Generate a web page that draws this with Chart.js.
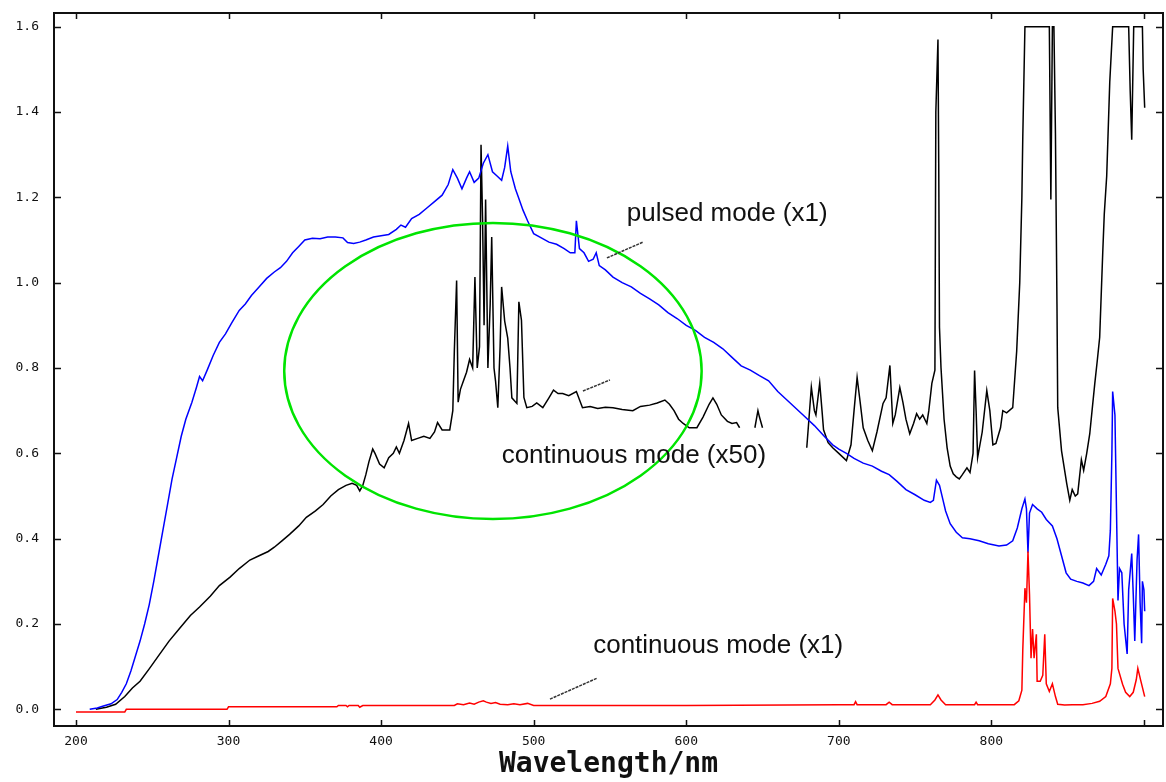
<!DOCTYPE html>
<html>
<head>
<meta charset="utf-8">
<title>Spectrum</title>
<script src="https://cdn.jsdelivr.net/npm/chart.js@4"></script>
<style>
  html, body { margin: 0; padding: 0; background: #fff; }
  #wrap { width: 1166px; height: 782px; }
</style>
</head>
<body>
<div id="wrap"><canvas id="spectrum" width="1166" height="782"></canvas></div>
<script>
// axis ticks
const xTicks = [200, 300, 400, 500, 600, 700, 800, 900];
const xTickLabels = ['200', '300', '400', '500', '600', '700', '800', ''];
const yTicks = [0, 0.2, 0.4, 0.6, 0.8, 1.0, 1.2, 1.4, 1.6];
const yTickLabels = ['0.0', '0.2', '0.4', '0.6', '0.8', '1.0', '1.2', '1.4', '1.6'];

// pulsed mode (x1), blue  [nm, value]
const pulsedX1 = [
  [209,0],[214,0.003],[218,0.008],[223,0.013],[227,0.023],[230,0.04],[233,0.06],[236,0.09],[239,0.125],[242,0.16],
  [245,0.2],[248,0.245],[251,0.3],[254,0.36],[257,0.42],[260,0.48],[263,0.54],[266,0.59],[269,0.64],[272,0.68],
  [276,0.72],[279,0.755],[281,0.78],[283,0.77],[286,0.795],[290,0.83],[294,0.86],[298,0.88],[302,0.905],[307,0.935],
  [311,0.95],[315,0.97],[320,0.99],[325,1.01],[330,1.025],[334,1.035],[338,1.05],[342,1.07],[346,1.085],[350,1.1],
  [355,1.104],[360,1.103],[365,1.107],[370,1.107],[375,1.105],[378,1.094],[382,1.092],[386,1.095],[390,1.1],[395,1.107],
  [400,1.11],[405,1.113],[410,1.125],[413,1.135],[416,1.13],[420,1.15],[425,1.16],[430,1.175],[435,1.19],[440,1.205],
  [444,1.23],[447,1.265],[450,1.245],[453,1.22],[456,1.245],[458,1.26],[461,1.235],[464,1.245],[467,1.28],[470,1.3],
  [473,1.26],[476,1.25],[479,1.24],[481,1.27],[483,1.32],[485,1.26],[488,1.22],[490,1.2],[493,1.17],[496,1.145],
  [500,1.115],[505,1.105],[510,1.095],[515,1.09],[520,1.08],[524,1.07],[527,1.07],[528,1.145],[530,1.08],[533,1.07],
  [536,1.05],[539,1.055],[541,1.07],[543,1.04],[547,1.03],[552,1.013],[558,1.0],[564,0.99],[570,0.975],[576,0.962],
  [582,0.948],[588,0.93],[594,0.916],[600,0.9],[606,0.888],[612,0.872],[618,0.86],[624,0.845],[630,0.825],[636,0.805],
  [642,0.795],[648,0.782],[654,0.77],[660,0.745],[666,0.725],[672,0.705],[678,0.685],[684,0.665],[690,0.642],[696,0.62],
  [700,0.61],[705,0.6],[710,0.588],[716,0.577],[722,0.57],[728,0.558],[733,0.55],[738,0.535],[744,0.515],[750,0.503],
  [756,0.49],[760,0.485],[762,0.49],[764,0.537],[766,0.525],[768,0.495],[770,0.465],[773,0.435],[777,0.415],[781,0.402],
  [786,0.4],[792,0.395],[798,0.388],[805,0.383],[810,0.385],[814,0.395],[817,0.425],[820,0.47],[822,0.493],[823,0.47],
  [824,0.367],[825,0.46],[827,0.48],[830,0.47],[833,0.462],[836,0.445],[840,0.43],[843,0.4],[846,0.36],[849,0.32],
  [852,0.305],[856,0.3],[860,0.296],[864,0.29],[867,0.3],[869,0.33],[872,0.315],[875,0.34],[877,0.36],[878,0.42],
  [879,0.6],[879.5,0.745],[881,0.69],[882,0.47],[883,0.255],[884,0.33],[885.5,0.32],[887,0.2],[889,0.13],[890,0.28],
  [892,0.365],[893,0.27],[894,0.16],[895.5,0.35],[896.5,0.41],[897.5,0.25],[898.5,0.155],[899,0.3],[900,0.28],[900.5,0.23]
];

// continuous mode (x50), black  (null = gap in the trace)
const continuousX50 = [
  [213,0],[220,0.005],[226,0.012],[232,0.03],[237,0.05],[242,0.066],[248,0.095],[255,0.13],[261,0.16],[268,0.19],
  [275,0.22],[281,0.24],[288,0.265],[294,0.29],[301,0.31],[307,0.33],[314,0.35],[320,0.36],[326,0.37],[330,0.38],
  [335,0.395],[340,0.41],[346,0.43],[351,0.45],[357,0.465],[362,0.48],[367,0.5],[372,0.515],[377,0.525],[381,0.53],
  [384,0.525],[386,0.512],[388,0.525],[390,0.55],[392,0.58],[394.5,0.61],[396,0.6],[399,0.575],[402,0.566],[405,0.59],
  [408,0.6],[410,0.615],[412,0.6],[415,0.63],[418,0.67],[420,0.63],[424,0.635],[428,0.64],[432,0.635],[435,0.65],
  [437,0.672],[440,0.655],[445,0.655],[447,0.7],[448,0.84],[449.5,1.005],[450.5,0.72],[452,0.75],[454,0.77],[456,0.79],
  [458,0.82],[460,0.8],[461.5,1.013],[463,0.8],[464.5,0.85],[465.5,1.323],[466.5,1.15],[467.5,0.9],[468.5,1.195],[470,0.8],
  [471.5,0.95],[472.5,1.107],[474,0.8],[475,0.77],[476.5,0.707],[478,0.85],[479,0.99],[481,0.91],[483,0.87],[484.5,0.8],
  [485.7,0.73],[489,0.717],[490.3,0.955],[492,0.912],[493.6,0.731],[495.5,0.707],[499,0.71],[502,0.718],[506,0.707],[510,0.73],
  [513,0.748],[516,0.74],[519,0.74],[523,0.735],[528,0.745],[532,0.707],[537,0.71],[542,0.705],[547,0.708],[552,0.707],
  [558,0.703],[565,0.7],[570,0.71],[576,0.713],[581,0.718],[586,0.725],[589,0.715],[592,0.7],[595,0.68],[598,0.67],
  [602,0.66],[607,0.66],[611,0.685],[615,0.715],[617.5,0.73],[620,0.715],[623,0.69],[627,0.675],[630,0.67],[633,0.672],
  [635,0.66],[640,null],[645,0.66],[646,0.68],[647,0.7],[648,0.685],[650,0.66],[665,null],
  [679,0.613],[680,0.66],[682,0.755],[684,0.7],[685,0.69],[687.5,0.765],[689,0.7],[690,0.655],[693,0.625],[696,0.613],
  [700,0.6],[705,0.583],[708,0.62],[710,0.7],[712,0.778],[714,0.72],[716,0.66],[719,0.63],[722,0.606],[725,0.65],
  [729,0.717],[731,0.73],[733.5,0.806],[735.4,0.67],[737,0.69],[740,0.754],[742,0.72],[744,0.68],[746.5,0.646],[749,0.67],
  [751,0.693],[753,0.68],[755,0.69],[757.7,0.67],[759,0.7],[761,0.764],[763,0.795],[763.6,1.4],[765,1.57],[765.5,1.28],
  [766,0.895],[767,0.8],[769,0.68],[771,0.613],[773,0.57],[775,0.552],[777,0.545],[779,0.54],[781,0.55],[784,0.566],
  [786,0.555],[788,0.6],[789,0.794],[790,0.7],[791,0.59],[794,0.65],[797,0.747],[799,0.7],[801,0.62],[803,0.623],
  [806,0.66],[807.5,0.7],[810,0.695],[814,0.707],[816.6,0.84],[818.6,1.0],[820,1.2],[820.6,1.342],[822,1.6],[830,1.6],
  [838,1.6],[839,1.195],[840,1.6],[841,1.6],[842,1.35],[843,0.95],[843.5,0.707],[846,0.606],[849.4,0.529],[851.4,0.49],
  [853,0.515],[855,0.5],[856.6,0.505],[859,0.585],[860.5,0.56],[862.5,0.6],[864.5,0.646],[866,0.7],[867.8,0.764],[869.5,0.82],
  [871,0.872],[873,1.07],[874,1.16],[875.6,1.25],[877.6,1.47],[879.5,1.6],[890,1.6],[891,1.45],[892,1.335],[893.3,1.6],
  [899,1.6],[899.5,1.5],[900.5,1.41]
];

// continuous mode (x1), red
const continuousX1 = [
  [200,-0.006],[232,-0.006],[233,0],[299,0],[300,0.006],[371,0.006],[372,0.009],[377,0.009],[378,0.006],[379,0.009],
  [385,0.009],[386,0.005],[388,0.009],[448,0.009],[450,0.013],[454,0.011],[458,0.015],[461,0.012],[464,0.017],[467,0.02],
  [469,0.017],[472,0.014],[475,0.016],[478,0.012],[483,0.011],[487,0.013],[491,0.011],[496,0.014],[500,0.009],[600,0.009],
  [700,0.011],[710,0.011],[711,0.018],[712,0.011],[731,0.011],[733,0.017],[735,0.011],[760,0.011],[763,0.022],[765,0.034],
  [767,0.022],[770,0.011],[789,0.011],[790,0.017],[791,0.011],[815,0.011],[818,0.02],[820,0.045],[820.6,0.14],[822,0.284],
  [823,0.25],[824,0.37],[825,0.27],[826,0.12],[827,0.188],[828,0.12],[829.5,0.176],[830,0.066],[832,0.066],[833.7,0.08],
  [835,0.176],[836,0.06],[838,0.042],[840,0.06],[842,0.03],[843.5,0.012],[848,0.01],[853,0.011],[860,0.011],[866,0.014],
  [871,0.019],[875,0.03],[878,0.06],[879,0.096],[879.5,0.26],[881,0.23],[882,0.2],[883,0.096],[886,0.059],[888,0.04],
  [890.7,0.03],[893,0.04],[895,0.07],[896,0.096],[898,0.066],[900.5,0.03]
];

// text labels with short leader lines, placed in data units
const notes = [
  { text: 'pulsed mode (x1)', x: 561, y: 1.145, line: [548, 1.058, 571.6, 1.095] },
  { text: 'continuous mode (x50)', x: 479, y: 0.577, line: [532.3, 0.746, 550, 0.772] },
  { text: 'continuous mode (x1)', x: 539, y: 0.132, line: [510.7, 0.024, 541.5, 0.073] }
];
// highlighted region (centre nm, centre value, half width nm, half height)
const highlight = { cx: 473.3, cy: 0.793, rx: 136.8, ry: 0.347 };

const toPoints = arr => arr.map(p => ({ x: p[0], y: p[1] }));

const overlayPlugin = {
    id: 'overlay',
    afterDatasetsDraw(chart) {
        const { ctx, scales: { x, y } } = chart;
        ctx.save();
        // green ellipse
        const cx = x.getPixelForValue(highlight.cx);
        const cy = y.getPixelForValue(highlight.cy);
        const rx = x.getPixelForValue(highlight.cx + highlight.rx) - cx;
        const ry = cy - y.getPixelForValue(highlight.cy + highlight.ry);
        ctx.strokeStyle = '#00e400';
        ctx.lineWidth = 2.5;
        ctx.beginPath();
        ctx.ellipse(cx, cy, rx, ry, 0, 0, Math.PI * 2);
        ctx.stroke();

        // labels + leaders
        ctx.font = '26px "Liberation Sans", Arial, sans-serif';
        ctx.fillStyle = '#111';
        ctx.textAlign = 'left';
        ctx.textBaseline = 'alphabetic';
        notes.forEach(n => {
            ctx.fillText(n.text, x.getPixelForValue(n.x), y.getPixelForValue(n.y));
            ctx.strokeStyle = '#333';
            ctx.lineWidth = 1.5;
            ctx.setLineDash([3, 1]);
            ctx.beginPath();
            ctx.moveTo(x.getPixelForValue(n.line[0]), y.getPixelForValue(n.line[1]));
            ctx.lineTo(x.getPixelForValue(n.line[2]), y.getPixelForValue(n.line[3]));
            ctx.stroke();
            ctx.setLineDash([]);
        });
        ctx.restore();
    },
    afterDraw(chart) {
        const { ctx, chartArea: a, scales: { x, y } } = chart;
        ctx.save();
        ctx.strokeStyle = '#111';
        ctx.lineWidth = 2;
        ctx.strokeRect(a.left, a.top, a.right - a.left, a.bottom - a.top);
        ctx.lineWidth = 1.5;
        ctx.beginPath();
        xTicks.forEach(v => {
            const px = Math.round(x.getPixelForValue(v)) + 0.5;
            ctx.moveTo(px, a.bottom); ctx.lineTo(px, a.bottom - 6);
            ctx.moveTo(px, a.top); ctx.lineTo(px, a.top + 6);
        });
        yTicks.forEach(v => {
            const py = Math.round(y.getPixelForValue(v)) + 0.5;
            ctx.moveTo(a.left, py); ctx.lineTo(a.left + 7, py);
            ctx.moveTo(a.right, py); ctx.lineTo(a.right - 7, py);
        });
        ctx.stroke();
        ctx.restore();
    }
};

const tickFont = { family: '"DejaVu Sans Mono", monospace', size: 13 };

new Chart(document.getElementById('spectrum').getContext('2d'), {
    type: 'line',
    data: {
        datasets: [
            { label: 'continuous mode (x1)', data: toPoints(continuousX1), borderColor: '#ff0000' },
            { label: 'pulsed mode (x1)', data: toPoints(pulsedX1), borderColor: '#0000ff' },
            { label: 'continuous mode (x50)', data: toPoints(continuousX50), borderColor: '#000000' }
        ]
    },
    options: {
        responsive: false,
        animation: false,
        devicePixelRatio: 1,
        spanGaps: false,
        elements: {
            line: { borderWidth: 1.5, tension: 0, fill: false },
            point: { radius: 0, hoverRadius: 0 }
        },
        layout: { padding: { top: 13, right: 3, left: 0, bottom: 0 } },
        plugins: { legend: { display: false }, tooltip: { enabled: false } },
        scales: {
            x: {
                type: 'linear',
                min: 185.6,
                max: 912.5,
                afterBuildTicks: s => { s.ticks = xTicks.map(v => ({ value: v })); },
                afterFit: s => { s.height = 56; s.paddingLeft = 0; s.paddingRight = 0; },
                grid: { display: false, drawTicks: false },
                border: { display: false },
                ticks: {
                    font: tickFont,
                    color: '#111',
                    padding: 8,
                    maxRotation: 0,
                    autoSkip: false,
                    callback: (v, i) => xTickLabels[i]
                },
                title: {
                    display: true,
                    text: 'Wavelength/nm',
                    color: '#111',
                    font: { family: '"DejaVu Sans Mono", monospace', size: 28, weight: 'bold' },
                    padding: { top: 0, bottom: 0 }
                }
            },
            y: {
                min: -0.039,
                max: 1.632,
                afterBuildTicks: s => { s.ticks = yTicks.map(v => ({ value: v })); },
                afterFit: s => { s.width = 54; s.paddingTop = 0; s.paddingBottom = 0; },
                grid: { display: false, drawTicks: false },
                border: { display: false },
                ticks: {
                    font: tickFont,
                    color: '#111',
                    padding: 15,
                    autoSkip: false,
                    callback: (v, i) => yTickLabels[i]
                }
            }
        }
    },
    plugins: [overlayPlugin]
});
</script>
</body>
</html>
